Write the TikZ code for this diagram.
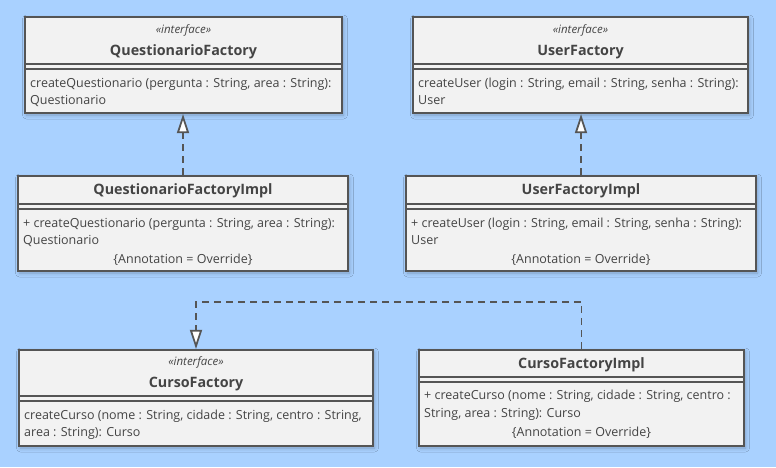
\documentclass[tikz,border=0pt]{standalone}
\usepackage{fontspec}
\setmainfont{Open Sans}
\usetikzlibrary{arrows.meta,shadows.blur}

\definecolor{bgblue}{RGB}{169,209,255}
\definecolor{boxfill}{RGB}{242,242,242}
\definecolor{edgegray}{RGB}{85,85,85}
\definecolor{ink}{RGB}{68,68,68}

\tikzset{
  classbox/.style={draw=edgegray, fill=boxfill, line width=2.2pt, inner sep=0pt,
    blur shadow={shadow xshift=1.5pt, shadow yshift=-2pt, shadow blur radius=4pt, shadow opacity=25}},
  divider/.style={draw=edgegray, line width=2pt},
  stereo/.style={font=\fontsize{11.5}{13}\selectfont\itshape, text=ink, anchor=base, inner sep=0pt},
  cname/.style={font=\fontsize{14.3}{16}\selectfont\bfseries, text=ink, anchor=base, inner sep=0pt},
  opline/.style={font=\fontsize{12.5}{15}\selectfont, text=ink, anchor=base west, inner sep=0pt},
  annot/.style={font=\fontsize{12.5}{15}\selectfont, text=ink, anchor=base, inner sep=0pt},
  realize/.style={draw=edgegray, line width=1.8pt, dash pattern=on 7pt off 5pt,
    -{Triangle[fill=white, length=19pt, width=12pt]}},
}

\begin{document}
\begin{tikzpicture}[x=1pt,y=-1pt]
\useasboundingbox (0,0) rectangle (776,467);
\fill[bgblue] (0,0) rectangle (776,467);

% QuestionarioFactory
\node[classbox, minimum width=317pt, minimum height=96pt] (qf) at (183.5,65) {};
\node[stereo] (qfst) at (183.5,33) {«interface»};
\node[cname] (qfname) at (183.5,55) {QuestionarioFactory};
\draw[divider] (25,64) -- (342,64);
\draw[divider] (25,69) -- (342,69);
\node[opline] (qfop1) at (30,87) {createQuestionario (pergunta : String, area : String):};
\node[opline] (qfop2) at (30,104) {Questionario};

% UserFactory
\node[classbox, minimum width=335pt, minimum height=96pt] (uf) at (580.5,65) {};
\node[stereo] (ufst) at (580.5,33) {«interface»};
\node[cname] (ufname) at (580.5,55) {UserFactory};
\draw[divider] (413,64) -- (748,64);
\draw[divider] (413,69) -- (748,69);
\node[opline] (ufop1) at (418,87) {createUser (login : String, email : String, senha : String):};
\node[opline] (ufop2) at (418,104) {User};

% QuestionarioFactoryImpl
\node[classbox, minimum width=330pt, minimum height=95pt] (qfi) at (183,223.5) {};
\node[cname] (qfiname) at (183,194) {QuestionarioFactoryImpl};
\draw[divider] (18,204) -- (348,204);
\draw[divider] (18,209) -- (348,209);
\node[opline] (qfiop1) at (23,227) {+ createQuestionario (pergunta : String, area : String):};
\node[opline] (qfiop2) at (23,244) {Questionario};
\node[annot] (qfiann) at (183,263) {\{Annotation = Override\}};

% UserFactoryImpl
\node[classbox, minimum width=350pt, minimum height=95pt] (ufi) at (581,223.5) {};
\node[cname] (ufiname) at (581,194) {UserFactoryImpl};
\draw[divider] (406,204) -- (756,204);
\draw[divider] (406,209) -- (756,209);
\node[opline] (ufiop1) at (411,227) {+ createUser (login : String, email : String, senha : String):};
\node[opline] (ufiop2) at (411,244) {User};
\node[annot] (ufiann) at (581,263) {\{Annotation = Override\}};

% CursoFactory
\node[classbox, minimum width=354pt, minimum height=96pt] (cf) at (196,398) {};
\node[stereo] (cfst) at (196,365) {«interface»};
\node[cname] (cfname) at (196,387) {CursoFactory};
\draw[divider] (19,396) -- (373,396);
\draw[divider] (19,401) -- (373,401);
\node[opline] (cfop1) at (24,419) {createCurso (nome : String, cidade : String, centro : String,};
\node[opline] (cfop2) at (24,436) {area : String): Curso};

% CursoFactoryImpl
\node[classbox, minimum width=325pt, minimum height=96pt] (cfi) at (581.5,398) {};
\node[cname] (cfiname) at (581.5,368) {CursoFactoryImpl};
\draw[divider] (419,377) -- (744,377);
\draw[divider] (419,382) -- (744,382);
\node[opline] (cfiop1) at (424,399) {+ createCurso (nome : String, cidade : String, centro :};
\node[opline] (cfiop2) at (424,417) {String, area : String): Curso};
\node[annot] (cfiann) at (581.5,436) {\{Annotation = Override\}};

% realizations
\draw[realize] (qfi.north) -- (qfi.north |- qf.south);
\draw[realize] (ufi.north) -- (ufi.north |- uf.south);
\draw[realize] (cfi.north) -- ++(0,-47) -| (cf.north);
\end{tikzpicture}
\end{document}
